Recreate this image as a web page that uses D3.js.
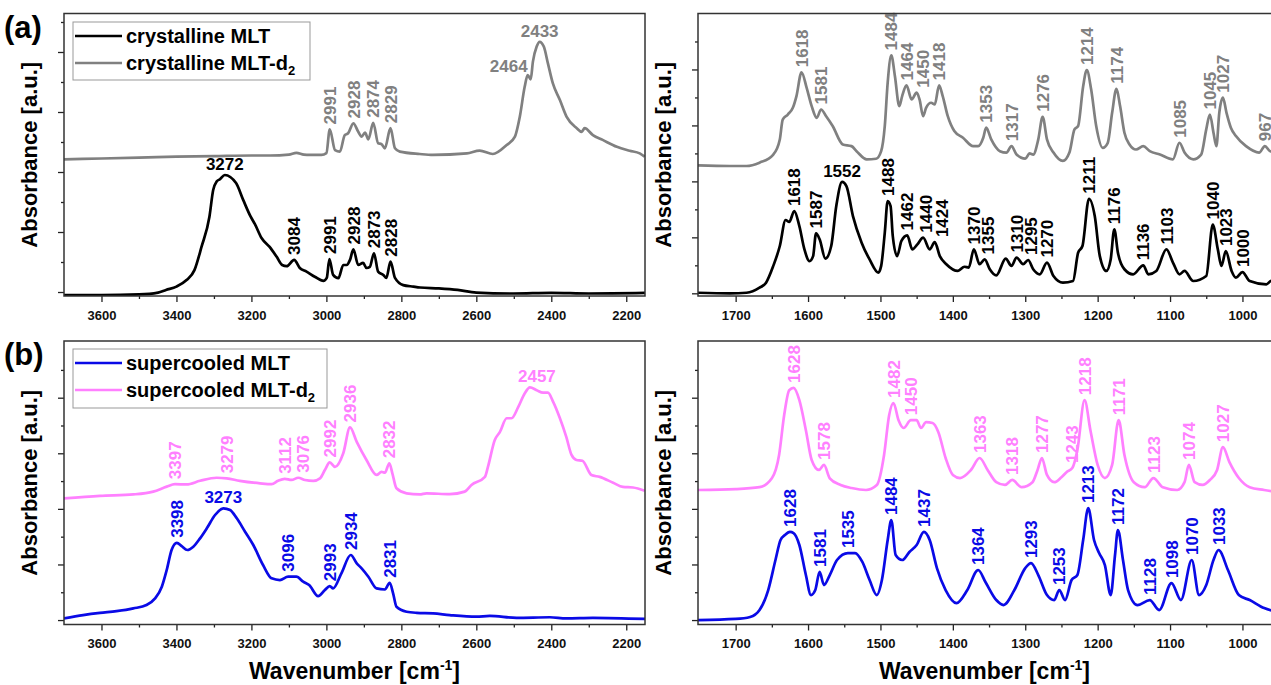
<!DOCTYPE html>
<html>
<head>
<meta charset="utf-8">
<script src="https://cdn.jsdelivr.net/npm/d3@7"></script>
<style>
  body { margin: 0; background: #fff; }
  svg { display: block; font-family: "Liberation Sans", Arial, sans-serif; }
</style>
</head>
<body>
<svg id="chart" width="1271" height="685"></svg>
<script>
// ---- spectra, [wavenumber, absorbance (a.u., stacked)] ----
// (a) crystalline, C-H/O-H region
const crystMLT_hi = [[3700,-0.10],[3600,-0.10],[3500,-0.08],[3449,-0.02],[3428,0.07],[3400,0.18],[3373,0.40],[3352,0.73],[3333,1.51],[3312,2.51],[3302,3.40],[3293,3.68],[3284,3.76],[3271,3.90],[3241,3.63],[3222,3.07],[3202,2.51],[3191,2.27],[3173,1.80],[3152,1.51],[3133,1.18],[3118,0.90],[3106,0.86],[3086,1.07],[3071,0.80],[3053,0.68],[3031,0.51],[3008,0.37],[2999,0.47],[2992,1.10],[2982,0.57],[2968,0.46],[2955,0.90],[2946,0.90],[2937,1.07],[2928,1.42],[2915,0.90],[2902,0.97],[2893,0.80],[2884,0.84],[2873,1.29],[2862,0.68],[2848,0.57],[2840,0.47],[2829,1.01],[2817,0.47],[2795,0.23],[2768,0.18],[2750,0.15],[2700,0.12],[2650,0.07],[2600,-0.02],[2500,-0.05],[2400,-0.03],[2300,-0.05],[2150,-0.03]];
const crystMLTd2_hi = [[3700,4.42],[3600,4.45],[3500,4.48],[3400,4.51],[3300,4.53],[3200,4.55],[3150,4.55],[3100,4.58],[3080,4.64],[3060,4.58],[3044,4.57],[3013,4.57],[3000,4.63],[2991,5.42],[2977,4.73],[2964,4.68],[2951,5.23],[2942,5.29],[2928,5.62],[2915,5.34],[2906,5.18],[2897,5.31],[2888,5.09],[2875,5.64],[2862,4.96],[2853,4.93],[2844,4.79],[2829,5.46],[2817,4.79],[2804,4.68],[2751,4.60],[2716,4.57],[2625,4.62],[2591,4.71],[2556,4.60],[2519,4.90],[2497,5.18],[2484,5.84],[2471,6.84],[2463,7.23],[2455,7.09],[2449,7.68],[2439,8.18],[2431,8.34],[2420,8.18],[2409,7.62],[2396,6.96],[2377,6.40],[2359,5.84],[2332,5.46],[2319,5.34],[2311,5.46],[2289,5.23],[2263,5.07],[2225,4.84],[2191,4.71],[2164,4.62],[2151,4.51]];
// (a) crystalline, fingerprint region
const crystMLT_lo = [[1752,0.02],[1708,0.00],[1685,0.02],[1667,0.20],[1658,0.38],[1648,0.98],[1639,1.69],[1631,2.62],[1626,2.55],[1619,2.94],[1612,2.40],[1605,1.57],[1598,1.15],[1593,1.33],[1589,2.14],[1584,1.93],[1576,1.24],[1568,1.69],[1561,3.12],[1553,3.98],[1547,3.83],[1538,2.76],[1526,1.81],[1515,1.21],[1503,0.74],[1499,0.98],[1494,2.17],[1490,3.30],[1486,3.12],[1483,2.05],[1477,1.33],[1471,1.87],[1463,2.07],[1456,1.57],[1449,1.75],[1441,1.99],[1432,1.57],[1425,1.83],[1418,1.33],[1409,1.04],[1393,0.80],[1384,0.95],[1378,0.92],[1371,1.57],[1363,1.04],[1356,1.21],[1349,0.86],[1340,0.64],[1327,1.24],[1319,0.98],[1312,1.28],[1303,1.04],[1296,1.19],[1289,0.86],[1280,0.68],[1270,1.10],[1261,0.62],[1248,0.38],[1234,0.44],[1227,1.45],[1221,1.69],[1212,3.38],[1204,2.76],[1197,1.33],[1188,0.80],[1182,1.21],[1177,2.29],[1172,1.45],[1163,0.86],[1151,0.68],[1137,1.00],[1130,0.68],[1119,0.80],[1105,1.57],[1096,1.10],[1087,0.68],[1080,0.80],[1068,0.44],[1050,0.62],[1041,2.46],[1034,1.57],[1029,0.98],[1023,1.51],[1015,0.80],[1009,0.56],[1000,0.76],[990,0.44],[967,0.32],[961,0.44],[950,0.50]];
const crystMLTd2_lo = [[1752,4.57],[1708,4.55],[1685,4.55],[1667,4.67],[1648,4.96],[1639,5.50],[1635,6.21],[1628,6.39],[1621,6.63],[1616,7.05],[1609,7.90],[1602,7.35],[1595,6.69],[1588,6.27],[1582,6.57],[1575,6.33],[1566,5.98],[1552,5.32],[1540,5.26],[1533,5.08],[1519,4.79],[1506,4.81],[1499,5.08],[1494,5.98],[1490,7.53],[1485,8.50],[1480,7.76],[1474,6.69],[1470,7.05],[1464,7.43],[1457,6.93],[1450,7.17],[1446,6.93],[1441,6.33],[1437,6.63],[1430,6.81],[1425,6.75],[1419,7.43],[1414,7.05],[1407,6.33],[1398,5.80],[1386,5.56],[1372,5.26],[1365,5.26],[1358,5.56],[1354,5.92],[1347,5.50],[1335,5.08],[1326,5.03],[1319,5.26],[1312,4.96],[1300,4.81],[1294,5.00],[1289,4.96],[1282,5.50],[1276,6.31],[1270,5.50],[1261,5.03],[1248,4.73],[1239,5.03],[1232,5.86],[1227,5.98],[1220,7.40],[1215,7.98],[1209,7.29],[1202,5.98],[1193,5.20],[1186,5.38],[1180,6.45],[1174,7.31],[1169,6.69],[1163,5.74],[1156,5.32],[1147,5.14],[1137,5.26],[1128,5.08],[1114,4.96],[1096,4.79],[1087,5.38],[1080,5.03],[1068,4.79],[1057,4.96],[1050,5.86],[1045,6.39],[1040,5.74],[1036,5.26],[1032,6.45],[1027,6.99],[1022,6.45],[1016,5.92],[1009,5.62],[995,5.26],[977,5.03],[969,5.26],[962,5.08],[950,5.00]];
// (b) supercooled, C-H/O-H region
const superMLT_hi = [[3700,0.06],[3649,0.18],[3604,0.26],[3560,0.32],[3515,0.42],[3480,0.54],[3457,0.78],[3439,1.20],[3426,1.80],[3413,2.52],[3399,2.78],[3386,2.66],[3371,2.52],[3355,2.64],[3337,2.94],[3319,3.30],[3297,3.78],[3275,4.02],[3257,3.96],[3239,3.66],[3217,3.18],[3195,2.70],[3169,1.98],[3146,1.50],[3124,1.44],[3102,1.56],[3080,1.56],[3062,1.38],[3046,1.26],[3022,0.86],[3004,1.08],[2991,1.22],[2982,1.14],[2960,1.68],[2935,2.34],[2919,2.04],[2906,1.86],[2888,1.56],[2866,1.14],[2844,1.10],[2831,1.34],[2822,0.96],[2813,0.48],[2786,0.30],[2759,0.26],[2715,0.24],[2671,0.18],[2600,0.12],[2564,0.15],[2493,0.08],[2404,0.10],[2360,0.06],[2289,0.08],[2150,0.04]];
const superMLTd2_hi = [[3700,4.38],[3604,4.47],[3515,4.52],[3462,4.62],[3426,4.80],[3404,4.89],[3373,4.88],[3337,5.01],[3293,5.12],[3266,5.10],[3231,5.01],[3177,4.92],[3146,4.89],[3129,5.01],[3111,5.08],[3093,5.04],[3075,5.12],[3057,5.04],[3035,5.01],[3017,5.10],[3004,5.40],[2991,5.67],[2977,5.51],[2955,6.00],[2937,6.93],[2919,6.41],[2893,5.76],[2866,5.22],[2853,5.33],[2844,5.30],[2832,5.64],[2824,5.28],[2813,4.74],[2786,4.56],[2751,4.52],[2733,4.56],[2671,4.53],[2631,4.62],[2613,4.86],[2577,5.15],[2569,5.51],[2551,6.47],[2537,6.77],[2519,7.26],[2506,7.26],[2488,7.67],[2471,8.15],[2457,8.37],[2439,8.27],[2422,8.18],[2409,8.18],[2395,7.85],[2377,7.26],[2360,6.59],[2346,5.94],[2333,5.76],[2317,5.73],[2293,5.22],[2271,5.15],[2235,4.94],[2209,4.79],[2182,4.77],[2151,4.65]];
// (b) supercooled, fingerprint region
const superMLT_lo = [[1752,0.00],[1700,0.04],[1680,0.11],[1667,0.36],[1655,1.08],[1645,2.16],[1638,2.88],[1632,3.06],[1625,3.17],[1620,3.13],[1612,2.70],[1603,1.62],[1596,0.90],[1590,1.08],[1584,1.73],[1578,1.26],[1570,1.62],[1560,2.16],[1545,2.41],[1535,2.41],[1525,2.09],[1515,1.44],[1505,0.90],[1498,1.44],[1490,2.88],[1485,3.60],[1479,2.34],[1470,2.16],[1460,2.45],[1450,2.70],[1440,3.17],[1432,2.88],[1422,1.87],[1410,1.08],[1395,0.61],[1380,1.08],[1365,1.80],[1355,1.37],[1340,0.72],[1330,0.54],[1315,1.08],[1300,1.87],[1292,2.05],[1282,1.62],[1270,0.90],[1260,0.72],[1253,1.08],[1245,0.72],[1236,1.44],[1228,1.62],[1220,2.88],[1213,4.03],[1205,2.88],[1198,2.41],[1190,1.98],[1182,0.90],[1176,2.34],[1172,3.24],[1165,2.16],[1158,1.08],[1145,0.54],[1128,0.72],[1115,0.36],[1098,1.33],[1085,0.72],[1070,2.16],[1060,0.90],[1050,1.26],[1040,2.16],[1033,2.52],[1020,1.80],[1005,0.90],[990,0.72],[970,0.43],[950,0.29]];
const superMLTd2_lo = [[1752,4.68],[1700,4.71],[1667,4.78],[1650,5.10],[1640,5.94],[1633,7.37],[1626,8.27],[1620,8.35],[1612,7.91],[1603,6.83],[1595,5.76],[1585,5.40],[1578,5.58],[1570,5.10],[1555,4.86],[1540,4.75],[1520,4.68],[1505,4.86],[1495,5.94],[1488,7.37],[1482,7.81],[1475,7.19],[1468,6.91],[1458,7.19],[1450,7.19],[1444,6.91],[1437,7.12],[1428,7.09],[1420,6.76],[1410,5.83],[1400,5.22],[1390,5.11],[1375,5.40],[1363,5.83],[1352,5.40],[1340,4.96],[1328,4.86],[1318,5.04],[1305,4.78],[1290,4.96],[1283,5.40],[1277,5.83],[1270,5.22],[1260,4.96],[1250,5.14],[1243,5.32],[1235,5.47],[1228,6.12],[1218,7.91],[1210,6.83],[1200,5.58],[1190,5.11],[1180,5.58],[1171,7.19],[1163,5.94],[1150,4.96],[1135,4.78],[1123,5.11],[1110,4.78],[1090,4.68],[1080,4.96],[1074,5.58],[1066,4.96],[1055,4.86],[1045,5.04],[1035,5.40],[1027,6.22],[1018,5.68],[1005,5.11],[990,4.78],[970,4.68],[950,4.60]];

// ---- peak labels ----
const crystMLT_hiPeaks = ['3084','2991','2928','2873','2828'];
const crystMLT_hiFlat = ['3272'];
const crystMLTd2_hiPeaks = ['2991','2928','2874','2829'];
const crystMLTd2_hiFlat = ['2464','2433'];
const crystMLT_loPeaks = ['1618','1587','1488','1462','1440','1424','1370','1355','1310','1295','1270','1211','1176','1136','1103','1040','1023','1000'];
const crystMLT_loFlat = ['1552'];
const crystMLTd2_loPeaks = ['1618','1581','1484','1464','1450','1418','1353','1317','1276','1214','1174','1085','1045','1027','967'];
const superMLT_hiPeaks = ['3398','3096','2993','2934','2831'];
const superMLT_hiFlat = ['3273'];
const superMLTd2_hiPeaks = ['3397','3279','3112','3076','2992','2936','2832'];
const superMLTd2_hiFlat = ['2457'];
const superMLT_loPeaks = ['1628','1581','1535','1484','1437','1364','1293','1253','1213','1172','1128','1098','1070','1033'];
const superMLTd2_loPeaks = ['1628','1578','1482','1450','1363','1318','1277','1243','1218','1171','1123','1074','1027'];

const hiTicks = [3600, 3400, 3200, 3000, 2800, 2600, 2400, 2200];
const hiMinor = [3500, 3300, 3100, 2900, 2700, 2500, 2300];
const loTicks = [1700, 1600, 1500, 1400, 1300, 1200, 1100, 1000];
const loMinor = [1650, 1550, 1450, 1350, 1250, 1150, 1050, 950];

const BLACK = '#000000', GRAY = '#808080', BLUE = '#0a0ae6', PINK = '#ff80ff';

// small sideways shifts (px) where crowded labels were spread apart
const labelNudge = { 'a2:1450': 6, 'a2:1440': 3, 'a2:1424': 7, 'a2:1295': 3, 'a2:1355': 3, 'b1:3076': 5 };

const svg = d3.select('#chart');

// highest point of a spectrum close to a labelled wavenumber
function peakNear(data, wn, win) {
  let best = null;
  for (const d of data) {
    if (Math.abs(d[0] - wn) <= win && (!best || d[1] > best[1])) best = d;
  }
  if (!best) best = data.reduce((a, b) => Math.abs(b[0] - wn) < Math.abs(a[0] - wn) ? b : a);
  return best;
}

function drawPanel(p) {
  const x = d3.scaleLinear().domain(p.xDomain).range([p.left, p.right]);
  const y = d3.scaleLinear().domain(p.yDomain).range([p.bottom, p.top]);
  const g = svg.append('g');

  const clipId = 'clip-' + p.id;
  g.append('clipPath').attr('id', clipId).append('rect')
    .attr('x', p.left).attr('y', p.top)
    .attr('width', p.right - p.left).attr('height', p.bottom - p.top);

  const line = d3.line().x((d) => x(d[0])).y((d) => y(d[1])).curve(d3.curveMonotoneX);
  for (const s of p.series) {
    g.append('path').datum(s.data)
      .attr('clip-path', `url(#${clipId})`)
      .attr('fill', 'none')
      .attr('stroke', s.color)
      .attr('stroke-width', 2.7)
      .attr('stroke-linejoin', 'round')
      .attr('d', line);
  }

  // peak labels
  for (const s of p.series) {
    for (const txt of s.peaks || []) {
      const pk = peakNear(s.data, +txt, 10);
      const nx = labelNudge[p.id + ':' + txt] || 0;
      g.append('text')
        .attr('transform', `translate(${x(pk[0]) + nx},${y(pk[1]) - 5}) rotate(-90)`)
        .attr('dy', '0.36em')
        .attr('fill', s.color)
        .attr('font-size', 17)
        .attr('font-weight', 'bold')
        .text(txt);
    }
    for (const txt of s.flat || []) {
      const pk = peakNear(s.data, +txt, 10);
      const endAnchored = txt === '2464';
      g.append('text')
        .attr('x', x(pk[0]) + (txt === '2457' ? 7 : 0))
        .attr('y', y(pk[1]) - (endAnchored ? 3 : 5))
        .attr('text-anchor', endAnchored ? 'end' : 'middle')
        .attr('fill', s.color)
        .attr('font-size', 17)
        .attr('font-weight', 'bold')
        .text(txt);
    }
  }

  // axes
  const xAxis = g.append('g').attr('transform', `translate(0,${p.bottom})`)
    .call(d3.axisBottom(x).tickValues(p.xTicks).tickSize(6).tickSizeOuter(0).tickFormat(d3.format('d')));
  g.append('g').attr('transform', `translate(0,${p.bottom})`)
    .call(d3.axisBottom(x).tickValues(p.xMinor).tickSize(3).tickFormat(''))
    .call((a) => a.select('.domain').remove());
  xAxis.selectAll('text')
    .attr('font-size', 13).attr('font-weight', 'bold').attr('fill', '#111')
    .attr('font-family', '"Liberation Sans", Arial, sans-serif').attr('dy', '1.15em');

  const yMax = p.yDomain[1] - 0.05;
  const yMajor = d3.range(0, yMax, 2);
  const yMinor = d3.range(1, yMax, 2);
  g.append('g').attr('transform', `translate(${p.left},0)`)
    .call(d3.axisLeft(y).tickValues(yMajor).tickSize(6).tickFormat(''))
    .call((a) => a.select('.domain').remove());
  g.append('g').attr('transform', `translate(${p.left},0)`)
    .call(d3.axisLeft(y).tickValues(yMinor).tickSize(3).tickFormat(''))
    .call((a) => a.select('.domain').remove());
  g.selectAll('.tick line').attr('stroke', '#222').attr('stroke-width', 1.3);
  xAxis.select('.domain').remove();

  // frame
  g.append('rect')
    .attr('x', p.left).attr('y', p.top)
    .attr('width', p.right - p.left).attr('height', p.bottom - p.top)
    .attr('fill', 'none').attr('stroke', '#333').attr('stroke-width', 1.5);

  // axis titles
  g.append('text')
    .attr('transform', `translate(${p.left - 27},${(p.top + p.bottom) / 2}) rotate(-90)`)
    .attr('text-anchor', 'middle')
    .attr('font-size', 22).attr('font-weight', 'bold')
    .text('Absorbance [a.u.]');

  if (p.xTitle) {
    const t = g.append('text')
      .attr('x', (p.left + Math.min(p.right, 1271)) / 2)
      .attr('y', 679)
      .attr('text-anchor', 'middle')
      .attr('font-size', 23).attr('font-weight', 'bold');
    t.append('tspan').text('Wavenumber [cm');
    t.append('tspan').attr('font-size', 14).attr('dy', -9).text('-1');
    t.append('tspan').attr('dy', 9).text(']');
  }

  if (p.legend) {
    const L = p.legend;
    const lg = g.append('g');
    lg.append('rect').attr('x', L.x).attr('y', L.y).attr('width', L.w).attr('height', L.h)
      .attr('fill', '#fff').attr('stroke', '#999').attr('stroke-width', 1);
    L.items.forEach((it, i) => {
      const yy = L.y + 14 + i * 27;
      lg.append('line').attr('x1', L.x + 2).attr('x2', L.x + 49).attr('y1', yy).attr('y2', yy)
        .attr('stroke', it.color).attr('stroke-width', 2.7);
      const t = lg.append('text').attr('x', L.x + 53).attr('y', yy + 7)
        .attr('font-size', 20).attr('font-weight', 'bold');
      t.append('tspan').text(it.label);
      if (it.sub) {
        t.append('tspan').attr('font-size', 13).attr('dy', 5).text(it.sub);
      }
    });
  }

  if (p.tag) {
    g.append('text').attr('x', 4).attr('y', p.top + 24)
      .attr('font-size', 31).attr('font-weight', 'bold').text(p.tag);
  }
}

const HI_X = { xDomain: [3700, 2150], left: 64, right: 645, xTicks: hiTicks, xMinor: hiMinor };
const LO_X = { xDomain: [1752, 950], left: 698, right: 698 + 802 * 0.724, xTicks: loTicks, xMinor: loMinor };
const TOP = { top: 13.5, bottom: 296 };
const BOT = { top: 341, bottom: 624.5 };

drawPanel({
  id: 'a1', ...HI_X, ...TOP, yDomain: [-0.133, 9.283], tag: '(a)',
  series: [
    { data: crystMLTd2_hi, color: GRAY, peaks: crystMLTd2_hiPeaks, flat: crystMLTd2_hiFlat },
    { data: crystMLT_hi, color: BLACK, peaks: crystMLT_hiPeaks, flat: crystMLT_hiFlat },
  ],
  legend: { x: 73, y: 22, w: 237, h: 58, items: [
    { label: 'crystalline MLT', color: BLACK },
    { label: 'crystalline MLT-d', sub: '2', color: GRAY },
  ] },
});
drawPanel({
  id: 'a2', ...LO_X, ...TOP, yDomain: [-0.096, 10.0],
  series: [
    { data: crystMLTd2_lo, color: GRAY, peaks: crystMLTd2_loPeaks },
    { data: crystMLT_lo, color: BLACK, peaks: crystMLT_loPeaks, flat: crystMLT_loFlat },
  ],
});
drawPanel({
  id: 'b1', ...HI_X, ...BOT, yDomain: [-0.16, 10.04], tag: '(b)', xTitle: true,
  series: [
    { data: superMLTd2_hi, color: PINK, peaks: superMLTd2_hiPeaks, flat: superMLTd2_hiFlat },
    { data: superMLT_hi, color: BLUE, peaks: superMLT_hiPeaks, flat: superMLT_hiFlat },
  ],
  legend: { x: 73, y: 349, w: 254, h: 59, items: [
    { label: 'supercooled MLT', color: BLUE },
    { label: 'supercooled MLT-d', sub: '2', color: PINK },
  ] },
});
drawPanel({
  id: 'b2', ...LO_X, ...BOT, yDomain: [-0.16, 10.04], xTitle: true,
  series: [
    { data: superMLTd2_lo, color: PINK, peaks: superMLTd2_loPeaks },
    { data: superMLT_lo, color: BLUE, peaks: superMLT_loPeaks },
  ],
});
</script>
</body>
</html>
